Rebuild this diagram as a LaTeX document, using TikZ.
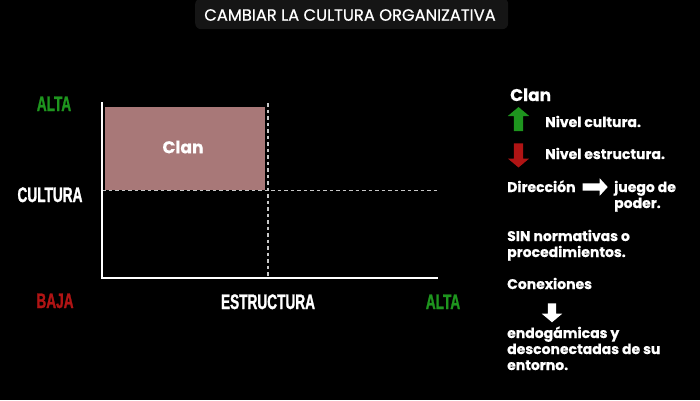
\documentclass[tikz,border=0pt]{standalone}
\usepackage{fontspec}
\setmainfont{Poppins}
\newfontfamily\condfont[FakeStretch=0.65,FakeBold=1.2]{Liberation Sans}
\newfontfamily\titlefont[FakeBold=0.6]{Poppins}
\newfontfamily\bodyfont[FakeBold=0.5]{Poppins}
\usetikzlibrary{shapes.arrows}
\definecolor{altagreen}{HTML}{1E951E}
\definecolor{bajared}{HTML}{B01414}
\definecolor{clanfill}{HTML}{A87878}
\definecolor{titlebox}{HTML}{151515}
\definecolor{dashgray}{HTML}{C8C8C8}
\tikzset{
  axislabel/.style={font=\condfont\bfseries\fontsize{21}{21}\selectfont, text=white, inner sep=0pt, anchor=base},
  bodytext/.style={font=\bodyfont\bfseries\fontsize{14}{14}\selectfont, text=white, inner sep=0pt, anchor=base west},
  axisline/.style={draw=white, line width=2pt},
  guide/.style={draw=dashgray, line width=1.1pt, dash pattern=on 3.5pt off 3pt},
  fatarrow/.style n args={4}{single arrow, draw=none, inner xsep=0pt, inner ysep=#2, minimum height=#1, single arrow head extend=#3, single arrow tip angle=#4},
}
\begin{document}
\begin{tikzpicture}[x=1pt,y=-1pt]
\useasboundingbox[fill=black] (0,0) rectangle (700,400);
% title
\node[fill=titlebox, rounded corners=6pt, minimum width=313pt, minimum height=31pt, anchor=north west] (titlebg) at (195,-2) {};
\node[font=\titlefont\fontsize{16.3}{16.3}\selectfont, text=white, inner sep=0pt] (title) at (350,15) {CAMBIAR LA CULTURA ORGANIZATIVA};
% clan box
\node[fill=clanfill, minimum width=160pt, minimum height=83pt, anchor=north west, inner sep=0pt] (clanbox) at (105,107) {};
\node[font=\bodyfont\bfseries\fontsize{17}{17}\selectfont, text=white, inner sep=0pt] (clanlbl) at (183,147) {Clan};
% coordinates
\coordinate (ytop) at (101.5,102);
\coordinate (origin) at (101.5,278);
\coordinate (xend) at (438,278);
\coordinate (vtop) at (268,103);
\coordinate (vbot) at (268,278);
\coordinate (hleft) at (102,190.5);
\coordinate (hright) at (438,190.5);
% guides
\draw[guide] (vtop) -- (vbot);
\draw[guide] (hleft) -- (hright);
% axes
\draw[axisline] (ytop) -- (origin) -- (xend);
% axis labels
\node[axislabel, text=altagreen] (altay) at (54,111) {ALTA};
\node[axislabel] (cultura) at (50,202) {CULTURA};
\node[axislabel, text=bajared] (baja) at (55,308) {BAJA};
\node[axislabel] (estructura) at (268,309) {ESTRUCTURA};
\node[axislabel, text=altagreen] (altax) at (443,309) {ALTA};
% right panel
\node[bodytext, font=\bodyfont\bfseries\fontsize{17}{17}\selectfont] (clanhead) at (510,101) {Clan};
\node[fatarrow={24pt}{4.5pt}{6pt}{100}, fill=altagreen, rotate=90] (uparrow) at (518.5,121) {};
\node[bodytext] (nivcult) at (545,127) {Nivel cultura.};
\node[fatarrow={24pt}{4.5pt}{6pt}{100}, fill=bajared, rotate=-90] (downarrow) at (518.5,153.5) {};
\node[bodytext] (nivest) at (545,159) {Nivel estructura.};
\node[bodytext] (direccion) at (507,192) {Dirección};
\node[fatarrow={25pt}{3.5pt}{5pt}{95}, fill=white] (rightarrow) at (593.5,187) {};
\node[bodytext] (juego) at (614,192) {juego de};
\node[bodytext] (poder) at (614,208) {poder.};
\node[bodytext] (sin1) at (507,241) {SIN normativas o};
\node[bodytext] (sin2) at (507,257) {procedimientos.};
\node[bodytext] (conex) at (507,289) {Conexiones};
\node[fatarrow={19pt}{4pt}{6pt}{100}, fill=white, rotate=-90] (conarrow) at (552,311) {};
\node[bodytext] (endo1) at (507,338) {endogámicas y};
\node[bodytext] (endo2) at (507,354) {desconectadas de su};
\node[bodytext] (endo3) at (507,370) {entorno.};
\end{tikzpicture}
\end{document}
